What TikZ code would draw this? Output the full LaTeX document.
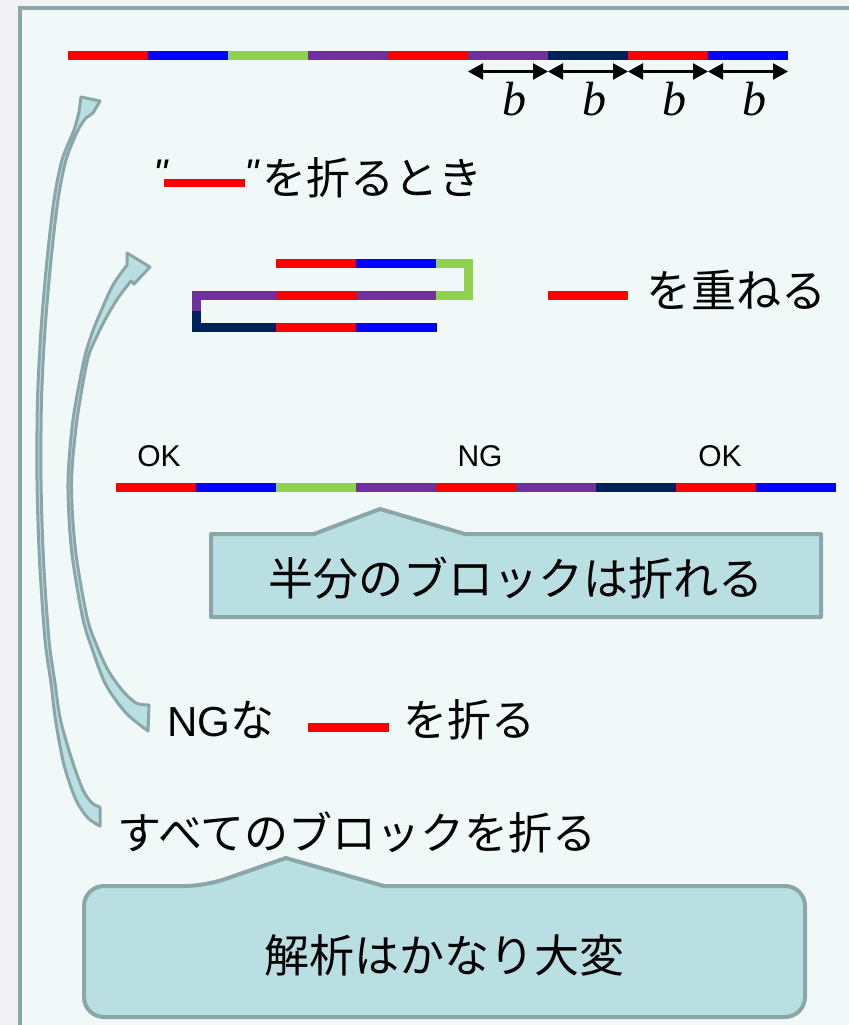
\documentclass[tikz,border=0pt]{standalone}
\usepackage{fontspec}
\setmainfont{Liberation Sans}
\newfontfamily\jp{Noto Sans CJK JP}
\newfontfamily\lsans{Liberation Sans}
\newfontfamily\tserif{Liberation Serif}
\usetikzlibrary{arrows.meta}
\definecolor{cred}{HTML}{FF0000}
\definecolor{cblue}{HTML}{0000FF}
\definecolor{cgreen}{HTML}{92D050}
\definecolor{cpurple}{HTML}{7030A0}
\definecolor{cnavy}{HTML}{002060}
\definecolor{bord}{HTML}{8AA6A9}
\definecolor{cfill}{HTML}{BADFE2}
\definecolor{innerbg}{HTML}{F1F9F8}
\definecolor{outerbg}{HTML}{F2F2F6}
\tikzset{
  seg/.style={line width=9bp},
  segm/.style={line width=9bp, line join=miter},
  dimarrow/.style={{Triangle[length=15bp,width=16bp]}-{Triangle[length=15bp,width=16bp]}, line width=2.2bp},
  jptext/.style={font=\jp\fontsize{44bp}{52bp}\selectfont, inner sep=0pt},
  jpbig/.style={font=\jp\fontsize{45bp}{52bp}\selectfont, inner sep=0pt},
  oktext/.style={font=\lsans\fontsize{30bp}{34bp}\selectfont, inner sep=0pt},
  btext/.style={font=\tserif\itshape\fontsize{48bp}{52bp}\selectfont, inner sep=0pt},
  qtext/.style={font=\lsans\itshape\fontsize{40bp}{44bp}\selectfont, inner sep=0pt},
  callout/.style={fill=cfill, draw=bord, line width=4bp, line join=round},
  arrowshape/.style={fill=cfill, draw=bord, line width=3bp, line join=round},
}
\begin{document}
\begin{tikzpicture}[x=1bp,y=-1bp]
\useasboundingbox (0,0) rectangle (849,1025);
\fill[outerbg] (0,0) rectangle (849,1025);
\draw[bord, line width=4bp, fill=innerbg] (20,8) rectangle (890,1070);

% top bar
\foreach \c [count=\i from 0] in {cred,cblue,cgreen,cpurple,cred,cpurple,cnavy,cred,cblue}
  \draw[seg,\c] ({68+80*\i},55.5) -- ({68+80*(\i+1)},55.5);
% dimension arrows
\foreach \i in {0,...,4} \coordinate (d\i) at ({468+80*\i},71.5);
\foreach \i/\j in {0/1,1/2,2/3,3/4} {
  \draw[dimarrow] (d\i) -- (d\j);
  \node[btext] (b\i) at ({514+80*\i},99) {b};
}

% "---" wo oru toki
\node[qtext] (q1) at (161,174) {"};
\coordinate (r1a) at (164,183); \coordinate (r1b) at (245,183);
\draw[line width=8bp, cred] (r1a) -- (r1b);
\node[qtext] (q2) at (252,174) {"};
\node[jptext, anchor=west] (t1) at (262,178) {を折るとき};

% folded strip
\draw[seg,cred] (276,263.5) -- (356,263.5);
\draw[seg,cblue] (356,263.5) -- (436,263.5);
\draw[segm,cgreen] (436,263.5) -- (468.5,263.5) -- (468.5,295.5) -- (436,295.5);
\draw[seg,cpurple] (436,295.5) -- (357,295.5);
\draw[seg,cred] (357,295.5) -- (277,295.5);
\draw[segm,cpurple] (277,295.5) -- (196,295.5) -- (196,311);
\draw[segm,cnavy] (196,311) -- (196,327.5) -- (276,327.5);
\draw[seg,cred] (276,327.5) -- (356,327.5);
\draw[seg,cblue] (356,327.5) -- (437,327.5);

% red wo kasaneru
\coordinate (r2a) at (548,295); \coordinate (r2b) at (628,295);
\draw[seg,cred] (r2a) -- (r2b);
\node[jpbig, anchor=west] (t2) at (646,290) {を重ねる};

% OK NG OK
\node[oktext] (ok1) at (159,456) {OK};
\node[oktext] (ng1) at (480,456) {NG};
\node[oktext] (ok2) at (720,456) {OK};
\foreach \c [count=\i from 0] in {cred,cblue,cgreen,cpurple,cred,cpurple,cnavy,cred,cblue}
  \draw[seg,\c] ({116+80*\i},487.5) -- ({116+80*(\i+1)},487.5);

% callout 1
\draw[callout] (211,534) -- (314,534) -- (380,509) -- (465,534) -- (821,534) -- (821,617) -- (211,617) -- cycle;
\node[jpbig] (c1) at (516,578) {半分のブロックは折れる};

% NG na --- wo oru
\node[jptext, anchor=west] (t3) at (167,720) {{\lsans\fontsize{42bp}{50bp}\selectfont NG}な};
\coordinate (r3a) at (308,727.5); \coordinate (r3b) at (389,727.5);
\draw[seg,cred] (r3a) -- (r3b);
\node[jptext, anchor=west] (t4) at (403,720) {を折る};

% subete
\node[jptext, anchor=west] (t5) at (117,832) {すべてのブロックを折る};

% callout 2
\draw[callout, rounded corners=20bp] (600,886) -- (805,886) -- (805,1017) -- (84,1017) -- (84,886) -- (205,886) [sharp corners] -- (286,858) -- (384,886) -- cycle;
\node[jpbig] (c2) at (444,955) {解析はかなり大変};

% curved arrow A (outer)
\filldraw[arrowshape] plot[smooth] coordinates {(100,807) (92,803) (83,790) (72,760) (60.5,720) (55,683) (49,640) (43.5,560) (41,480) (41.5,400) (45,330) (51,260) (58,200) (66,160) (78,130) (86,118)}
  -- (93,113) -- (100,101) -- (81,97)
  -- plot[smooth] coordinates {(79,112) (74,130) (62,160) (54,200) (47,260) (41,330) (37.5,400) (37,480) (39.5,560) (45,640) (51,683) (55.5,720) (64,765) (76,800) (88,818) (100,826)} -- cycle;

% curved arrow B (inner)
\filldraw[arrowshape] plot[smooth] coordinates {(149,705) (136,703) (122,690) (108,670) (96.5,645) (87,617) (75.5,550) (71.5,483) (77,420) (87.5,360) (96,338) (106,318) (118,298) (131,281)}
  -- (134,284) -- (150,267) -- (127,253)
  -- plot[smooth] coordinates {(127,265) (113,285) (101.5,310) (92.5,332) (84,360) (73,420) (68,483) (71.5,550) (82.5,617) (92.5,650) (106,685) (126,713) (148,731)} -- cycle;
\end{tikzpicture}
\end{document}
